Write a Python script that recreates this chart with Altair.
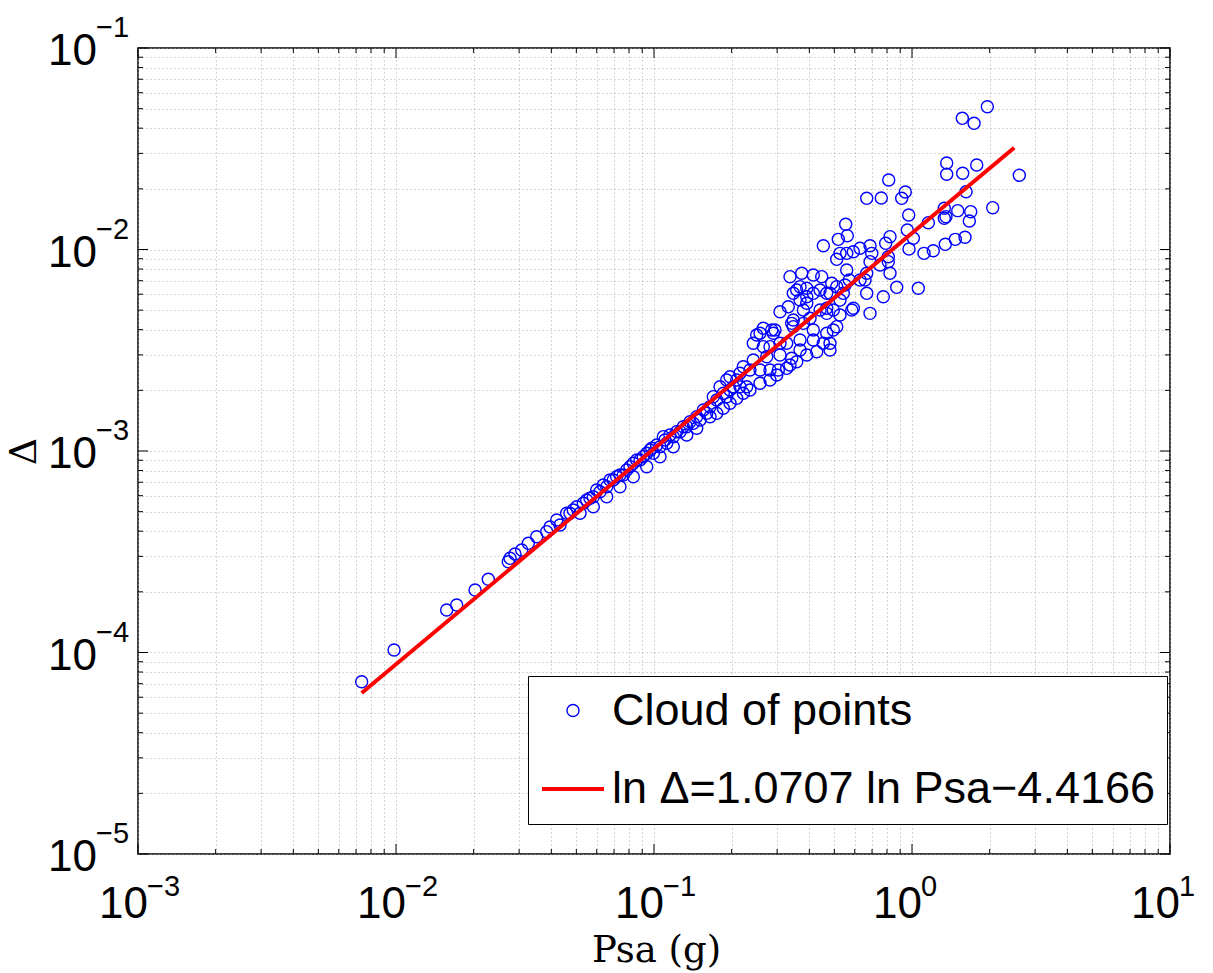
import altair as alt
import pandas as pd

# ---- data ----
psa = [
    0.00736, 0.00983, 0.01572, 0.01719, 0.02025, 0.02279, 0.02724, 0.02767, 0.02892, 0.0307,
    0.03257, 0.0351, 0.03838, 0.03953, 0.04198, 0.04323, 0.04587, 0.04724, 0.04865, 0.05017,
    0.05321, 0.05484, 0.05648, 0.05817, 0.05996, 0.06175, 0.0636, 0.06556, 0.06752, 0.06953,
    0.07167, 0.07381, 0.07603, 0.07839, 0.08072, 0.08314, 0.08568, 0.08826, 0.0909, 0.0937,
    0.0965, 0.098, 0.0994, 0.1024, 0.1055, 0.1087, 0.1103, 0.112, 0.1153, 0.1188,
    0.1225, 0.1262, 0.1299, 0.1339, 0.1379, 0.142, 0.1464, 0.1508, 0.1553, 0.1649,
    0.1698, 0.1803, 0.1913, 0.1913, 0.2092, 0.2154, 0.2219, 0.2287, 0.2355, 0.2426,
    0.2426, 0.25, 0.2576, 0.2576, 0.2576, 0.2653, 0.2653, 0.2735, 0.2816, 0.2816,
    0.286, 0.2901, 0.2944, 0.3033, 0.3079, 0.3079, 0.3079, 0.3268, 0.3315, 0.3366,
    0.3366, 0.3418, 0.3418, 0.3467, 0.3467, 0.3467, 0.3574, 0.3681, 0.3681, 0.3681,
    0.3681, 0.3738, 0.3792, 0.3792, 0.3909, 0.3909, 0.3909, 0.4025, 0.4145, 0.4145,
    0.4145, 0.4145, 0.4273, 0.4401, 0.4401, 0.4467, 0.4532, 0.4532, 0.4672, 0.4672,
    0.4672, 0.4672, 0.4812, 0.4812, 0.4812, 0.4885, 0.4955, 0.4955, 0.5107, 0.5107,
    0.5107, 0.5181, 0.526, 0.526, 0.526, 0.5417, 0.55, 0.5534, 0.5584, 0.5584,
    0.5614, 0.5715, 0.584, 0.5924, 0.5924, 0.6287, 0.6287, 0.6576, 0.6676, 0.6676,
    0.6676, 0.6876, 0.6876, 0.6876, 0.6982, 0.7516, 0.7603, 0.7741, 0.7907, 0.8093,
    0.8093, 0.8123, 0.8217, 0.8217, 0.8726, 0.9121, 0.9419, 0.959, 0.971, 0.9737,
    1.012, 1.058, 1.113, 1.157, 1.209, 1.334, 1.334, 1.354, 1.346, 1.363,
    1.363, 1.472, 1.504, 1.567, 1.572, 1.605, 1.62, 1.668, 1.689, 1.74,
    1.782, 1.959, 2.055, 2.606, 0.1601, 0.175, 0.1856, 0.203, 0.1971,
    0.1649, 0.175, 0.1856, 0.1971, 0.2092, 0.2219, 0.2355, 0.2816, 0.299, 0.3268,
    0.3574, 0.3909, 0.1971, 0.2154, 0.05167, 0.05817, 0.06556, 0.07381, 0.08314, 0.0937,
    0.1055, 0.1188, 0.1339, 0.1464,
]
delta = [
    7.16e-5, 1.029e-4, 1.625e-4, 1.72e-4, 2.043e-4, 2.309e-4, 2.822e-4, 2.934e-4, 3.082e-4, 3.226e-4,
    3.482e-4, 3.755e-4, 3.977e-4, 4.196e-4, 4.546e-4, 4.294e-4, 4.907e-4, 4.907e-4, 5.095e-4, 5.29e-4,
    5.5e-4, 5.71e-4, 5.823e-4, 5.93e-4, 6.40e-4, 6.28e-4, 6.78e-4, 6.65e-4, 7.18e-4, 7.18e-4,
    7.45e-4, 7.6e-4, 7.6e-4, 8.04e-4, 8.36e-4, 8.69e-4, 9.02e-4, 9.02e-4, 9.37e-4, 9.74e-4,
    1.012e-3, 1.031e-3, 9.74e-4, 1.071e-3, 1.05e-3, 1.178e-3, 1.134e-3, 1.092e-3, 1.201e-3, 1.178e-3,
    1.247e-3, 1.247e-3, 1.32e-3, 1.32e-3, 1.397e-3, 1.372e-3, 1.48e-3, 1.425e-3, 1.598e-3, 1.66e-3,
    1.86e-3, 2.085e-3, 1.86e-3, 2.251e-3, 2.251e-3, 2.429e-3, 2.62e-3, 2.085e-3, 2.523e-3, 2.828e-3,
    3.424e-3, 3.765e-3, 2.168e-3, 2.523e-3, 3.838e-3, 3.294e-3, 4.064e-3, 2.938e-3, 2.523e-3, 3.294e-3,
    3.986e-3, 3.838e-3, 3.986e-3, 2.523e-3, 2.995e-3, 3.424e-3, 4.91e-3, 3.424e-3, 5.2e-3, 2.671e-3,
    7.33e-3, 2.884e-3, 4.3e-3, 4.47e-3, 6.06e-3, 4.14e-3, 6.29e-3, 3.172e-3, 3.556e-3, 5.61e-3,
    6.54e-3, 7.62e-3, 4.3e-3, 5.01e-3, 5.41e-3, 5.83e-3, 6.42e-3, 4.56e-3, 3.556e-3, 3.986e-3,
    6.06e-3, 7.47e-3, 3.111e-3, 5.01e-3, 6.29e-3, 7.33e-3, 3.424e-3, 1.044e-2, 3.838e-3, 4.82e-3,
    5.11e-3, 6.06e-3, 3.172e-3, 3.424e-3, 6.06e-3, 6.8e-3, 3.986e-3, 5.01e-3, 4.14e-3, 6.54e-3,
    8.94e-3, 1.123e-2, 4.73e-3, 5.61e-3, 9.57e-3, 6.06e-3, 6.66e-3, 1.334e-2, 7.91e-3, 9.57e-3,
    1.171e-2, 7.06e-3, 5.01e-3, 5.11e-3, 9.75e-3, 7.06e-3, 1.014e-2, 7.06e-3, 6.06e-3, 7.62e-3,
    1.795e-2, 4.82e-3, 8.7e-3, 1.044e-2, 9.57e-3, 8.38e-3, 1.801e-2, 5.83e-3, 1.073e-2, 9.21e-3,
    8.7e-3, 2.213e-2, 7.62e-3, 1.158e-2, 6.49e-3, 1.795e-2, 1.929e-2, 1.25e-2, 1.484e-2, 1.006e-2,
    1.137e-2, 6.42e-3, 9.57e-3, 1.359e-2, 9.86e-3, 1.602e-2, 1.429e-2, 1.456e-2, 1.061e-2, 2.688e-2,
    2.362e-2, 1.123e-2, 1.559e-2, 4.477e-2, 2.389e-2, 1.15e-2, 1.936e-2, 1.385e-2, 1.541e-2, 4.228e-2,
    2.627e-2, 5.113e-2, 1.613e-2, 2.335e-2, 1.538e-3, 1.79e-3, 1.934e-3, 2.085e-3, 2.337e-3,
    1.48e-3, 1.538e-3, 1.629e-3, 1.725e-3, 1.826e-3, 1.934e-3, 2.008e-3, 2.251e-3, 2.383e-3, 2.572e-3,
    2.773e-3, 2.995e-3, 2.008e-3, 2.085e-3, 4.907e-4, 5.29e-4, 5.93e-4, 6.65e-4, 7.45e-4, 8.36e-4,
    9.37e-4, 1.05e-3, 1.201e-3, 1.297e-3,
]
assert len(psa) == len(delta)

fit_psa = [0.00736, 2.49]
fit_delta = [6.3e-05, 0.032]

cloud_label = "Cloud of points"
fit_label = "ln Δ=1.0707 ln Psa−4.4166"

x_decades = [0.001, 0.01, 0.1, 1.0, 10.0]
x_exponents = ["−3", "−2", "−1", "0", "1"]
y_decades = [1e-05, 1e-04, 1e-03, 1e-02, 1e-01]
y_exponents = ["−5", "−4", "−3", "−2", "−1"]
minor_steps = [2, 3, 4, 5, 6, 7, 8, 9]
x_minor = [m * d for d in x_decades[:-1] for m in minor_steps]
y_minor = [m * d for d in y_decades[:-1] for m in minor_steps]

# ---- layout ----
W, H = 1032, 806
FONT = "Liberation Sans"

xs = alt.Scale(type="log", domain=[1e-3, 10], nice=False)
ys = alt.Scale(type="log", domain=[1e-5, 1e-1], nice=False)
dom = [cloud_label, fit_label]
color_s = alt.Scale(domain=dom, range=["#0000ff", "#ff0000"])
shape_s = alt.Scale(domain=dom, range=["circle", "stroke"])
size_s = alt.Scale(type="point", padding=0, domain=dom, range=[145, 3844])
sw_s = alt.Scale(type="point", padding=0, domain=dom, range=[1.4, 4])

grid_kw = dict(grid=True, gridColor="#a8a8a8", gridDash=[1, 3], gridWidth=1,
               labels=False, ticks=False, domain=False)
x_axis = alt.Axis(values=x_decades + x_minor, title="Psa (g)", titleFont="DejaVu Serif",
                  titleFontSize=37, titleFontWeight="normal", titleColor="black",
                  titleX=518, titleY=107, titleBaseline="alphabetic", titleAlign="center",
                  **grid_kw)
y_axis = alt.Axis(values=y_decades + y_minor, title="Δ", titleFont="DejaVu Serif",
                  titleFontSize=38, titleFontWeight="normal", titleColor="black",
                  titleX=-114, titleY=403, titleAngle=270, titleBaseline="middle",
                  titleAlign="center", **grid_kw)


def X(field="psa"):
    return alt.X(f"{field}:Q", scale=xs, axis=x_axis)


def Y(field="delta"):
    return alt.Y(f"{field}:Q", scale=ys, axis=y_axis)


df_pts = pd.DataFrame({"psa": psa, "delta": delta, "series": cloud_label})
df_fit = pd.DataFrame({"psa": fit_psa, "delta": fit_delta, "series": fit_label})

pts = alt.Chart(df_pts).mark_point(filled=False, opacity=1).encode(
    x=X(), y=Y(),
    color=alt.Color("series:N", scale=color_s, legend=alt.Legend(title=None)),
    shape=alt.Shape("series:N", scale=shape_s, legend=alt.Legend(title=None)),
    size=alt.Size("series:N", scale=size_s, legend=alt.Legend(title=None)),
    strokeWidth=alt.StrokeWidth("series:N", scale=sw_s, legend=alt.Legend(title=None)),
)

fit = alt.Chart(df_fit).mark_line(opacity=1).encode(
    x=X(), y=Y(),
    color=alt.Color("series:N", scale=color_s, legend=alt.Legend(title=None)),
    strokeWidth=alt.StrokeWidth("series:N", scale=sw_s, legend=alt.Legend(title=None)),
)


def x_ticks(vals, y0, y1):
    return alt.Chart(pd.DataFrame({"psa": vals})).mark_rule(color="black", strokeWidth=1).encode(
        x=X(), y=alt.value(y0), y2=alt.value(y1))


def y_ticks(vals, x0, x1):
    return alt.Chart(pd.DataFrame({"delta": vals})).mark_rule(color="black", strokeWidth=1).encode(
        y=Y(), x=alt.value(x0), x2=alt.value(x1))


MAJ, MIN = 10, 5
ticks = [
    x_ticks(x_decades, H, H - MAJ), x_ticks(x_minor, H, H - MIN),
    x_ticks(x_decades, 0, MAJ), x_ticks(x_minor, 0, MIN),
    y_ticks(y_decades, 0, MAJ), y_ticks(y_minor, 0, MIN),
    y_ticks(y_decades, W, W - MAJ), y_ticks(y_minor, W, W - MIN),
]

xlab = pd.DataFrame({"psa": x_decades, "base": ["10"] * 5, "exp": x_exponents})
ylab = pd.DataFrame({"delta": y_decades, "base": ["10"] * 5, "exp": y_exponents})

x_base = alt.Chart(xlab).mark_text(align="right", baseline="alphabetic", dx=10, font=FONT,
                                   fontSize=44, color="black").encode(
    x=X(), y=alt.value(H + 64), text="base:N")
x_exp = alt.Chart(xlab).mark_text(align="left", baseline="alphabetic", dx=9, font=FONT,
                                  fontSize=29, color="black").encode(
    x=X(), y=alt.value(H + 42), text="exp:N")
y_base = alt.Chart(ylab).mark_text(align="right", baseline="alphabetic", dy=17, font=FONT,
                                   fontSize=44, color="black").encode(
    y=Y(), x=alt.value(-41), text="base:N")
y_exp = alt.Chart(ylab).mark_text(align="left", baseline="alphabetic", dy=-11, font=FONT,
                                  fontSize=29, color="black").encode(
    y=Y(), x=alt.value(-42), text="exp:N")

chart = alt.layer(pts, fit, *ticks, x_base, x_exp, y_base, y_exp).properties(
    width=W, height=H,
    autosize=alt.AutoSizeParams(type="none"),
    padding={"left": 138, "top": 48, "right": 43, "bottom": 119},
).configure_view(stroke="black", strokeWidth=1.5).configure_legend(
    orient="none", legendX=390, legendY=628, padding=12,
    labelFont=FONT, labelFontSize=45, labelColor="black", labelLimit=2000,
    labelOffset=6, rowPadding=22,
    strokeColor="black", fillColor="white",
)

chart.save("out.html", embed_options={"renderer": "svg", "actions": False})
